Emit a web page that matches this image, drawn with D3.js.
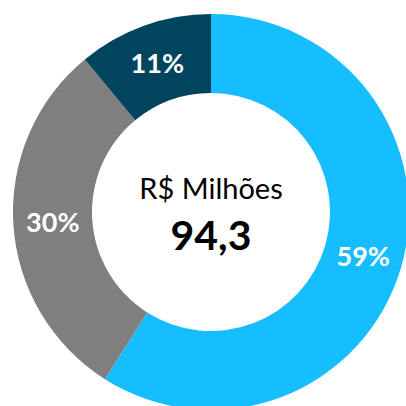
<!DOCTYPE html>
<html>
<head>
<meta charset="utf-8">
<script src="https://cdn.jsdelivr.net/npm/d3@7"></script>
<style>
  html, body { margin: 0; padding: 0; background: #fff; }
  svg { display: block; }
</style>
</head>
<body>
<svg id="chart" width="406" height="406"></svg>
<script>
"use strict";

// data
const categories = ["A", "B", "C"];
const values = [59, 30, 11];
const labels = ["59%", "30%", "11%"];
const colors = ["#17BEFF", "#7F7F7F", "#00445E"];
const centerTitle = "R$ Milhões";
const centerValue = "94,3";

// consts
const cx = 211, cy = 212,
      outerR = 198, innerR = 119;

let svg = d3.select("#chart");
let g = svg.append("g").attr("transform", `translate(${cx}, ${cy})`);

let pie = d3.pie().sort(null).value(d => d.value);
let arc = d3.arc().innerRadius(innerR).outerRadius(outerR);

let data = categories.map((c, i) => ({ cat: c, value: values[i], label: labels[i], color: colors[i] }));
let arcs = pie(data);

// slices
g.selectAll("path.slice")
.data(arcs)
.enter()
.append("path")
.attr("class", "slice")
.attr("d", arc)
.attr("fill", d => d.data.color);

// labels
g.selectAll("text.label")
.data(arcs)
.enter()
.append("text")
.attr("class", "label")
.attr("transform", d => `translate(${arc.centroid(d)})`)
.attr("text-anchor", "middle")
.attr("dy", "0.36em")
.attr("fill", "#fff")
.attr("font-family", "Lato, 'Open Sans', sans-serif")
.attr("font-weight", "bold")
.attr("font-size", 27)
.text(d => d.data.label);

// center text
g.append("text")
.attr("text-anchor", "middle")
.attr("y", -13)
.attr("fill", "#000")
.attr("font-family", "Lato, 'Open Sans', sans-serif")
.attr("font-size", 29)
.text(centerTitle);

g.append("text")
.attr("text-anchor", "middle")
.attr("y", 38)
.attr("fill", "#000")
.attr("font-family", "Lato, 'Open Sans', sans-serif")
.attr("font-weight", "bold")
.attr("font-size", 41)
.text(centerValue);
</script>
</body>
</html>
